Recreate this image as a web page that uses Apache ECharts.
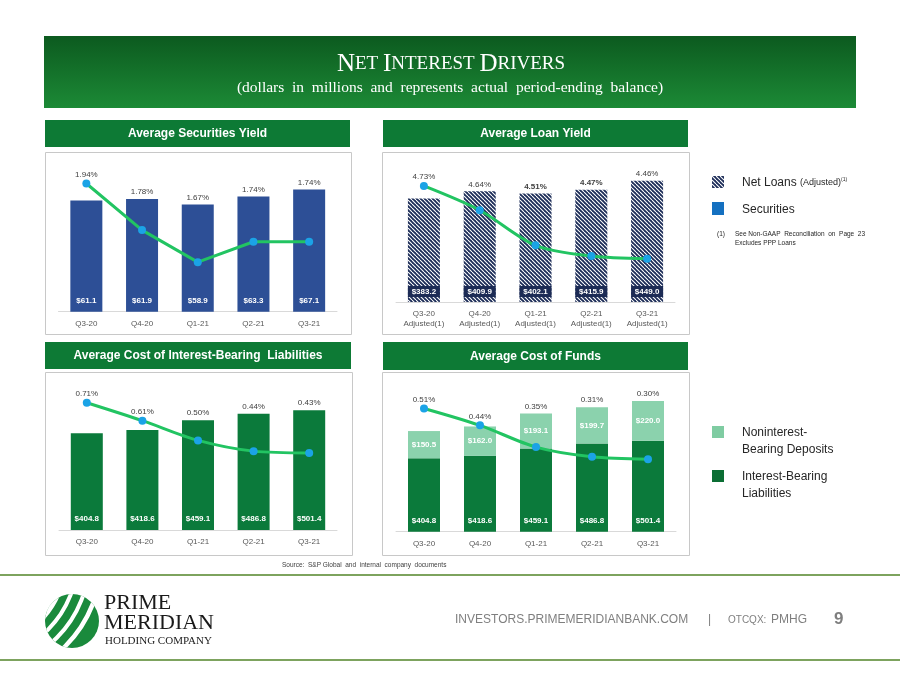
<!DOCTYPE html>
<html><head><meta charset="utf-8">
<script src="https://cdn.jsdelivr.net/npm/echarts@6/dist/echarts.min.js"></script>
<style>html,body{margin:0;padding:0;background:#fff}#c{width:900px;height:675px}</style>
</head><body><div id="c"></div>
<script>
// ---------- data ----------
const categories = ['Q3-20', 'Q4-20', 'Q1-21', 'Q2-21', 'Q3-21'];
const loanCategories = ['Q3-20\nAdjusted(1)', 'Q4-20\nAdjusted(1)', 'Q1-21\nAdjusted(1)', 'Q2-21\nAdjusted(1)', 'Q3-21\nAdjusted(1)'];
const securitiesBalance = [61.1, 61.9, 58.9, 63.3, 67.1];
const securitiesYield = [1.94, 1.78, 1.67, 1.74, 1.74];
const loanBalance = [383.2, 409.9, 402.1, 415.9, 449.0];
const loanYield = [4.73, 4.64, 4.51, 4.47, 4.46];
const ibLiabilities = [404.8, 418.6, 459.1, 486.8, 501.4];
const ibCost = [0.71, 0.61, 0.50, 0.44, 0.43];
const nibDeposits = [150.5, 162.0, 193.1, 199.7, 220.0];
const fundsCost = [0.51, 0.44, 0.35, 0.31, 0.30];

// ---------- styles ----------
const GREEN_HDR = '#0d7a35';
const LINE_C = '#22c462';
const DOT_C = '#1ba3e6';
const NAVY = '#2d4f96';
const DARK_G = '#0b7a3b';
const LIGHT_G = '#8bd2ad';
const FONT = 'Liberation Sans, Arial, sans-serif';
const SERIF = 'Liberation Serif, Times New Roman, serif';

// hatch pattern
const hatch = document.createElement('canvas');
hatch.width = 4; hatch.height = 4;
(function(){
  const g = hatch.getContext('2d');
  g.fillStyle = '#1d2d58'; g.fillRect(0,0,4,4);
  g.strokeStyle = '#ffffff'; g.lineWidth = 1.1;
  for (const o of [-4, 0, 4]) { g.beginPath(); g.moveTo(o, 0); g.lineTo(o + 4, 4); g.stroke(); }
})();
const hatchFill = {image: hatch, repeat: 'repeat'};

// logo sphere
const logo = document.createElement('canvas');
logo.width = 62; logo.height = 62;
(function(){
  const g = logo.getContext('2d');
  g.save();
  g.beginPath(); g.arc(31, 31, 27, 0, Math.PI * 2); g.clip();
  g.fillStyle = '#1a8a3c'; g.fillRect(0, 0, 62, 62);
  g.strokeStyle = '#ffffff';
  [[86, 5], [98, 4], [110, 4], [122, 4.5]].forEach(([r, w]) => {
    g.lineWidth = w; g.beginPath(); g.arc(-62, -30, r, 0, Math.PI * 2); g.stroke();
  });
  g.fillStyle = '#ffffff'; g.beginPath(); g.arc(-62, -30, 85, 0, Math.PI * 2); g.fill();
  g.restore();
})();

const chart = echarts.init(document.getElementById('c'), null, {renderer: 'canvas'});

const grids = [
  {left: 58.5, top: 166, width: 278.5, height: 145.7},
  {left: 396, top: 167, width: 279, height: 135},
  {left: 59, top: 386.6, width: 278, height: 143.4},
  {left: 396, top: 386.7, width: 280, height: 145}
];
const scales = [
  {bMax: 80, lMin: 1.5, lMax: 2.0},
  {bMax: 500, lMin: 4.3, lMax: 4.8},
  {bMax: 600, lMin: 0, lMax: 0.8},
  {bMax: 800, lMin: 0, lMax: 0.6}
];

function xAxis(idx, cats) {
  return {type: 'category', gridIndex: idx, data: cats,
    axisLine: {lineStyle: {color: '#d9d9d9', width: 1}}, axisTick: {show: false},
    axisLabel: {color: '#595959', fontSize: 8, fontFamily: FONT, margin: 7, lineHeight: 10, interval: 0}};
}
function yAxes(idx) {
  const s = scales[idx];
  return [
    {type: 'value', gridIndex: idx, min: 0, max: s.bMax, show: false, splitLine: {show: false}},
    {type: 'value', gridIndex: idx, min: s.lMin, max: s.lMax, show: false, splitLine: {show: false}}
  ];
}
const pctText = {color: '#404040', fontSize: 8, fontFamily: FONT};

function lineAbove(idx, tops, yields) {
  const s = scales[idx];
  return tops.map((t, i) => (yields[i] - s.lMin) / (s.lMax - s.lMin) >= t / s.bMax);
}
function pctSeries(idx, tops, yields, boldIdx) {
  const above = lineAbove(idx, tops, yields);
  const bar = {type: 'bar', xAxisIndex: idx, yAxisIndex: idx * 2, barWidth: 32, barGap: '-100%', z: 1,
    itemStyle: {color: 'rgba(0,0,0,0)'}, silent: true,
    data: tops.map((t, i) => ({value: t, label: {show: !above[i], position: 'top', distance: 3,
      formatter: yields[i].toFixed(2) + '%', ...pctText, fontWeight: boldIdx.includes(i) ? 'bold' : 'normal'}}))};
  const line = {type: 'line', xAxisIndex: idx, yAxisIndex: idx * 2 + 1, z: 5,
    smooth: idx === 0 ? false : 0.3, symbol: 'circle', symbolSize: 8,
    lineStyle: {color: LINE_C, width: 3}, itemStyle: {color: DOT_C},
    data: yields.map((y, i) => ({value: y, label: {show: above[i], position: 'top', distance: 1,
      formatter: y.toFixed(2) + '%', ...pctText, fontWeight: boldIdx.includes(i) ? 'bold' : 'normal'}}))};
  return [bar, line];
}
const valLabel = {show: true, position: 'insideBottom', distance: 7, color: '#fff', fontSize: 8,
  fontWeight: 'bold', fontFamily: FONT, formatter: p => '$' + p.value.toFixed(1)};

const totals = ibLiabilities.map((v, i) => v + nibDeposits[i]);

const series = [
  {type: 'bar', xAxisIndex: 0, yAxisIndex: 0, barWidth: 32, data: securitiesBalance,
    itemStyle: {color: NAVY}, label: valLabel},
  ...pctSeries(0, securitiesBalance, securitiesYield, []),
  {type: 'bar', xAxisIndex: 1, yAxisIndex: 2, barWidth: 32, data: loanBalance,
    itemStyle: {color: hatchFill},
    label: {...valLabel, distance: 5, backgroundColor: '#1c2b55', width: 32, height: 11, lineHeight: 11, align: 'center'}},
  ...pctSeries(1, loanBalance, loanYield, [2, 3]),
  {type: 'bar', xAxisIndex: 2, yAxisIndex: 4, barWidth: 32, data: ibLiabilities,
    itemStyle: {color: DARK_G}, label: valLabel},
  ...pctSeries(2, ibLiabilities, ibCost, []),
  {type: 'bar', xAxisIndex: 3, yAxisIndex: 6, barWidth: 32, stack: 'f', data: ibLiabilities,
    itemStyle: {color: DARK_G}, label: valLabel},
  {type: 'bar', xAxisIndex: 3, yAxisIndex: 6, barWidth: 32, stack: 'f', data: nibDeposits,
    itemStyle: {color: LIGHT_G}, label: {...valLabel, position: 'inside', distance: 0}},
  ...pctSeries(3, totals, fundsCost, [])
];

// ---------- graphics ----------
const G = [];
// banner
G.push({type: 'rect', shape: {x: 44, y: 36, width: 812, height: 72},
  style: {fill: new echarts.graphic.LinearGradient(0, 0, 0, 1, [{offset: 0, color: '#0c5a1f'}, {offset: 1, color: '#1c8a36'}])}});
G.push({type: 'text', x: 451, y: 64, style: {
  text: '{b|N}{s|ET }{b|I}{s|NTEREST }{b|D}{s|RIVERS}', align: 'center', verticalAlign: 'middle',
  rich: {b: {fontSize: 25, fontFamily: SERIF, fill: '#fff'}, s: {fontSize: 19, fontFamily: SERIF, fill: '#fff'}}}});
G.push({type: 'text', x: 450, y: 88, style: {text: '(dollars  in  millions  and  represents  actual  period-ending  balance)',
  fontSize: 15.5, fontFamily: SERIF, fill: '#fff', align: 'center', verticalAlign: 'middle'}});
// panel headers and boxes
const panels = [
  {hx: 45, hy: 120, hw: 305, hh: 27, bx: 45, by: 152, bw: 306, bh: 182, t: 'Average Securities Yield'},
  {hx: 383, hy: 120, hw: 305, hh: 27, bx: 382, by: 152, bw: 307, bh: 182, t: 'Average Loan Yield'},
  {hx: 45, hy: 342, hw: 306, hh: 27, bx: 45, by: 372, bw: 307, bh: 183, t: 'Average Cost of Interest-Bearing  Liabilities'},
  {hx: 383, hy: 342, hw: 305, hh: 28, bx: 382, by: 372, bw: 307, bh: 183, t: 'Average Cost of Funds'}
];
panels.forEach(p => {
  G.push({type: 'rect', shape: {x: p.hx, y: p.hy, width: p.hw, height: p.hh}, style: {fill: GREEN_HDR}});
  G.push({type: 'text', x: p.hx + p.hw / 2, y: p.hy + p.hh / 2 + 0.5, style: {text: p.t, fontSize: 12, fontWeight: 'bold',
    fontFamily: FONT, fill: '#fff', align: 'center', verticalAlign: 'middle'}});
  G.push({type: 'rect', shape: {x: p.bx + 0.5, y: p.by + 0.5, width: p.bw, height: p.bh}, style: {fill: 'none', stroke: '#c8c8c8', lineWidth: 1}});
});
// right legends
G.push({type: 'rect', shape: {x: 712, y: 176, width: 12, height: 12}, style: {fill: hatchFill}});
G.push({type: 'text', x: 742, y: 183, style: {text: '{a|Net Loans }{b|(Adjusted)}{c|(1)}', verticalAlign: 'middle',
  rich: {a: {fontSize: 12, fontFamily: FONT, fill: '#262626'}, b: {fontSize: 9, fontFamily: FONT, fill: '#262626'},
         c: {fontSize: 5, fontFamily: FONT, fill: '#262626', verticalAlign: 'top', padding: [0, 0, 6, 0]}}}});
G.push({type: 'rect', shape: {x: 712, y: 202, width: 12, height: 13}, style: {fill: '#1470c0'}});
G.push({type: 'text', x: 742, y: 210, style: {text: 'Securities', fontSize: 12, fontFamily: FONT, fill: '#262626', verticalAlign: 'middle'}});
G.push({type: 'text', x: 717, y: 234, style: {text: '(1)', fontSize: 6.5, fontFamily: FONT, fill: '#262626', verticalAlign: 'middle'}});
G.push({type: 'text', x: 735, y: 234, style: {text: 'See Non-GAAP  Reconciliation  on  Page  23', fontSize: 6.5, fontFamily: FONT, fill: '#262626', verticalAlign: 'middle'}});
G.push({type: 'text', x: 735, y: 243, style: {text: 'Excludes PPP Loans', fontSize: 6.5, fontFamily: FONT, fill: '#262626', verticalAlign: 'middle'}});

G.push({type: 'rect', shape: {x: 712, y: 426, width: 12, height: 12}, style: {fill: '#7fcca2'}});
G.push({type: 'text', x: 742, y: 433, style: {text: 'Noninterest-', fontSize: 12, fontFamily: FONT, fill: '#262626', verticalAlign: 'middle'}});
G.push({type: 'text', x: 742, y: 450, style: {text: 'Bearing Deposits', fontSize: 12, fontFamily: FONT, fill: '#262626', verticalAlign: 'middle'}});
G.push({type: 'rect', shape: {x: 712, y: 470, width: 12, height: 12}, style: {fill: '#0b6e34'}});
G.push({type: 'text', x: 742, y: 477, style: {text: 'Interest-Bearing', fontSize: 12, fontFamily: FONT, fill: '#262626', verticalAlign: 'middle'}});
G.push({type: 'text', x: 742, y: 494, style: {text: 'Liabilities', fontSize: 12, fontFamily: FONT, fill: '#262626', verticalAlign: 'middle'}});

// source
G.push({type: 'text', x: 282, y: 565, style: {text: 'Source:  S&P Global  and  internal  company  documents', fontSize: 6.5, fontFamily: FONT, fill: '#404040', verticalAlign: 'middle'}});
// footer lines
G.push({type: 'rect', shape: {x: 0, y: 574, width: 900, height: 2}, style: {fill: '#7da35e'}});
G.push({type: 'rect', shape: {x: 0, y: 659, width: 900, height: 2}, style: {fill: '#7da35e'}});
// footer text
G.push({type: 'text', x: 455, y: 620, style: {text: 'INVESTORS.PRIMEMERIDIANBANK.COM', fontSize: 12, fontFamily: FONT, fill: '#7f7f7f', verticalAlign: 'middle'}});
G.push({type: 'text', x: 708, y: 620, style: {text: '|', fontSize: 12, fontFamily: FONT, fill: '#7f7f7f', verticalAlign: 'middle'}});
G.push({type: 'text', x: 728, y: 620, style: {text: 'OTCQX:', fontSize: 10, fontFamily: FONT, fill: '#7f7f7f', verticalAlign: 'middle'}});
G.push({type: 'text', x: 771, y: 620, style: {text: 'PMHG', fontSize: 12, fontFamily: FONT, fill: '#7f7f7f', verticalAlign: 'middle'}});
G.push({type: 'text', x: 834, y: 619, style: {text: '9', fontSize: 17, fontWeight: 'bold', fontFamily: FONT, fill: '#7f7f7f', verticalAlign: 'middle'}});
// logo
G.push({type: 'image', x: 41, y: 590, style: {image: logo, width: 62, height: 62}});
G.push({type: 'text', x: 104, y: 603, style: {text: 'PRIME', fontSize: 22, fontFamily: SERIF, fill: '#1a1a1a', verticalAlign: 'middle'}});
G.push({type: 'text', x: 104, y: 623, style: {text: 'MERIDIAN', fontSize: 22, fontFamily: SERIF, fill: '#1a1a1a', verticalAlign: 'middle'}});
G.push({type: 'text', x: 105, y: 641, style: {text: 'HOLDING COMPANY', fontSize: 11, fontFamily: SERIF, fill: '#1a1a1a', verticalAlign: 'middle'}});

chart.setOption({
  animation: false,
  backgroundColor: '#fff',
  grid: grids,
  xAxis: [xAxis(0, categories), xAxis(1, loanCategories), xAxis(2, categories), xAxis(3, categories)],
  yAxis: [...yAxes(0), ...yAxes(1), ...yAxes(2), ...yAxes(3)],
  series: series,
  graphic: {elements: G}
});
</script></body></html>
